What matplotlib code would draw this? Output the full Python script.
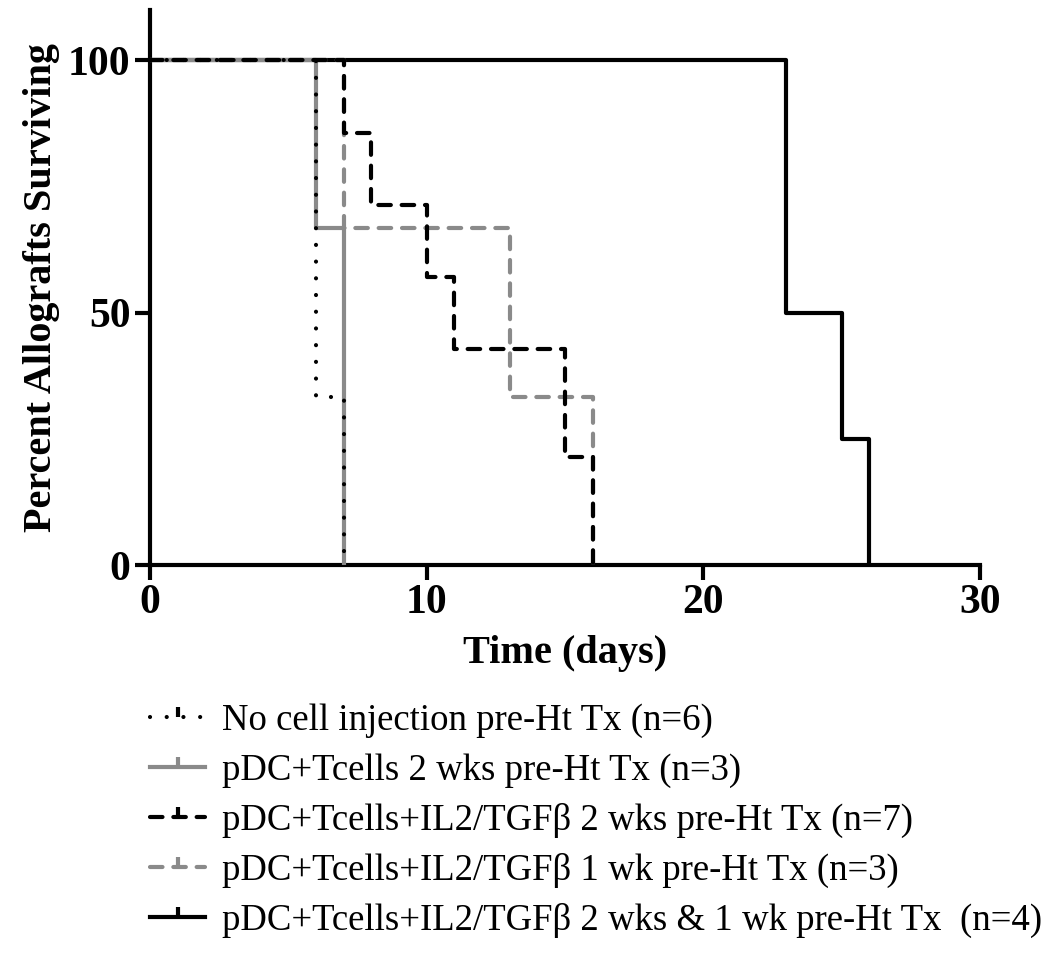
import matplotlib.pyplot as plt
from matplotlib.path import Path

# Kaplan-Meier step data (day, percent surviving)
no_cell_t = [0, 6, 7]
no_cell_s = [100, 33.3, 0]

pdc_t = [0, 6, 7]
pdc_s = [100, 66.7, 0]

il2_2wk_t = [0, 7, 8, 10, 11, 15, 16]
il2_2wk_s = [100, 85.7, 71.4, 57.1, 42.9, 21.4, 0]

il2_1wk_t = [0, 7, 13, 16]
il2_1wk_s = [100, 66.7, 33.3, 0]

il2_both_t = [0, 23, 25, 26]
il2_both_s = [100, 50, 25, 0]

labels = [
    "No cell injection pre-Ht Tx (n=6)",
    "pDC+Tcells 2 wks pre-Ht Tx (n=3)",
    "pDC+Tcells+IL2/TGFβ 2 wks pre-Ht Tx (n=7)",
    "pDC+Tcells+IL2/TGFβ 1 wk pre-Ht Tx (n=3)",
    "pDC+Tcells+IL2/TGFβ 2 wks & 1 wk pre-Ht Tx  (n=4)",
]

plt.rcParams['font.family'] = ['Liberation Serif', 'DejaVu Serif']

fig = plt.figure(figsize=(10.5, 9.73), dpi=100)
ax = fig.add_axes([0.1429, 0.4193, 0.7904, 0.5704])

gray = "#8a8a8a"
tick_mark = Path([(0, 0), (0, 1)], [Path.MOVETO, Path.LINETO])
lw = 3.0

styles = [
    dict(color="black", linestyle=(0, (0.01, 4.0)), dash_capstyle="round", zorder=6),
    dict(color=gray, linestyle="-", zorder=3),
    dict(color="black", linestyle=(0, (3.0, 2.6)), dash_capstyle="round", zorder=5),
    dict(color=gray, linestyle=(0, (3.0, 2.6)), dash_capstyle="round", zorder=4),
    dict(color="black", linestyle="-", zorder=2),
]
series = [
    (no_cell_t, no_cell_s),
    (pdc_t, pdc_s),
    (il2_2wk_t, il2_2wk_s),
    (il2_1wk_t, il2_1wk_s),
    (il2_both_t, il2_both_s),
]

handles = []
for (t, s), st, lab in zip(series, styles, labels):
    ax.step(t, s, where="post", lw=lw, solid_capstyle="butt", **st)
    # legend handle with the small censor tick in the middle
    h, = ax.plot([], [], lw=lw, marker=tick_mark, markersize=14,
                 markeredgewidth=3, markeredgecolor=st["color"],
                 color=st["color"], linestyle=st["linestyle"],
                 dash_capstyle=st.get("dash_capstyle", "butt"), label=lab)
    handles.append(h)

ax.set_xlim(0, 30)
ax.set_ylim(0, 110)
ax.set_xticks([0, 10, 20, 30])
ax.set_yticks([0, 50, 100])
ax.spines["top"].set_visible(False)
ax.spines["right"].set_visible(False)
for sp in ["left", "bottom"]:
    ax.spines[sp].set_linewidth(3)
ax.tick_params(width=3, length=11, labelsize=30, pad=3)
for lbl in ax.get_xticklabels() + ax.get_yticklabels():
    lbl.set_fontweight("bold")
ax.set_xlabel("Time (days)", fontsize=29, fontweight="bold", labelpad=9)
ax.set_ylabel("Percent Allografts Surviving", fontsize=29, fontweight="bold", labelpad=6)

fig.legend(handles=handles, loc="upper left", bbox_to_anchor=(0.1429, 0.277),
           frameon=False, fontsize=26.5, handlelength=1.5, handletextpad=0.45,
           labelspacing=0.41, borderpad=0, borderaxespad=0, numpoints=1)

fig.savefig("out.png", dpi=100)
